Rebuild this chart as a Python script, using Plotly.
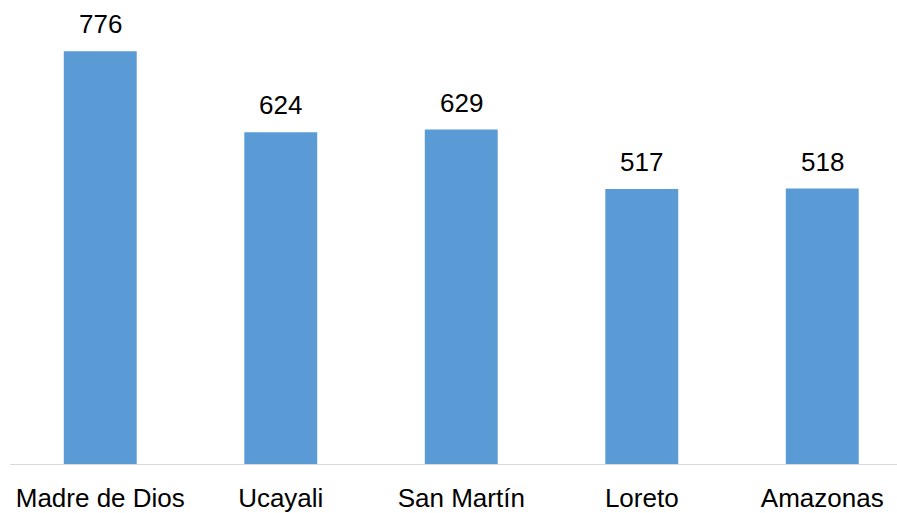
import plotly.graph_objects as go

categories = ["Madre de Dios", "Ucayali", "San Martín", "Loreto", "Amazonas"]
values = [776, 624, 629, 517, 518]

fig = go.Figure(go.Bar(
    x=categories, y=values,
    marker=dict(color="#5b9bd5", line=dict(width=0)),
    width=0.404,
))

for c, v in zip(categories, values):
    fig.add_annotation(x=c, y=v, text=str(v), showarrow=False, yanchor="bottom",
                       yshift=10, font=dict(family="Liberation Sans, Arial", size=26, color="#000000"))

fig.update_layout(
    width=897, height=513,
    margin=dict(l=10, r=0, t=5, b=43),
    paper_bgcolor="white", plot_bgcolor="white",
    showlegend=False,
    font=dict(family="Liberation Sans, Arial", size=26, color="#000000"),
    xaxis=dict(range=[-0.5, 4.414], showline=True, linecolor="#d9d9d9", linewidth=1,
               showgrid=False, ticks="", ticklabelstandoff=11, tickfont=dict(size=26, color="#000000")),
    yaxis=dict(range=[0, 863.2], visible=False, showgrid=False, zeroline=False),
)
fig.write_html("out.html", config={"displayModeBar": False},
               post_script="document.body.style.margin='0';document.body.style.overflow='hidden';")
